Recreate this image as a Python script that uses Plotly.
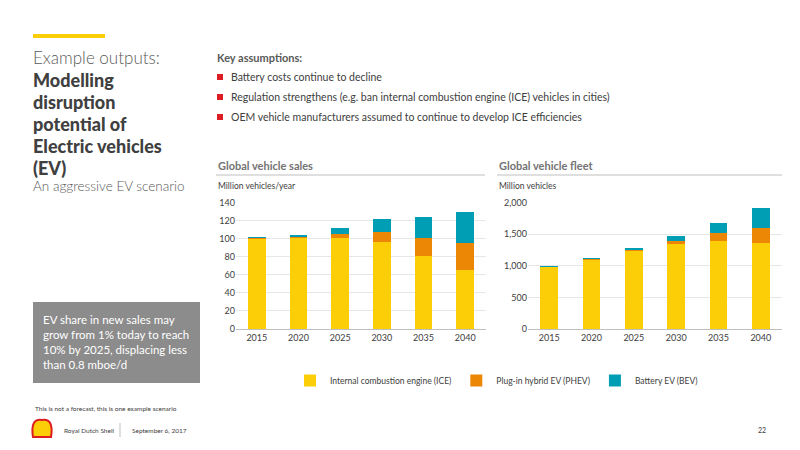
import plotly.graph_objects as go

years = ["2015", "2020", "2025", "2030", "2035", "2040"]
sales_ice = [101, 102, 101, 97, 81, 65]
sales_phev = [0.5, 1, 4, 11, 20, 31]
sales_bev = [0.5, 1.5, 7, 14, 23, 34]
fleet_ice = [985, 1100, 1235, 1350, 1385, 1355]
fleet_phev = [2, 10, 25, 50, 130, 250]
fleet_bev = [2, 10, 15, 70, 170, 305]

names = ["Internal combustion engine (ICE)", "Plug-in hybrid EV (PHEV)", "Battery EV (BEV)"]
colors = ["#FBCE07", "#EB8705", "#009EB4"]
FONT = "Lato"

fig = go.Figure()
for vals, name, col in zip([sales_ice, sales_phev, sales_bev], names, colors):
    fig.add_trace(go.Bar(x=years, y=vals, name=name, marker_color=col, marker_line_width=0,
                         width=0.42, xaxis="x", yaxis="y"))
for vals, name, col in zip([fleet_ice, fleet_phev, fleet_bev], names, colors):
    fig.add_trace(go.Bar(x=years, y=vals, name=name, marker_color=col, marker_line_width=0,
                         width=0.42, xaxis="x2", yaxis="y2", showlegend=False))

def px(x): return x / 800
def py(y): return 1 - y / 450

axis_common = dict(showgrid=True, gridcolor="#E6E6E6", zeroline=False, showline=False,
                   tickfont=dict(size=9, color="#404040", family=FONT), ticks="")
fig.update_layout(
    barmode="stack", width=800, height=450, margin=dict(l=0, r=0, t=0, b=0, autoexpand=False),
    paper_bgcolor="white", plot_bgcolor="white",
    font=dict(family=FONT, color="#404040"),
    xaxis=dict(domain=[px(236), px(486)], anchor="y", showgrid=False, showline=True,
               linecolor="#BFBFBF", tickfont=dict(size=9, color="#404040", family=FONT)),
    yaxis=dict(domain=[py(329), py(202)], range=[0, 141], dtick=20, **axis_common),
    xaxis2=dict(domain=[px(528), px(782)], anchor="y2", showgrid=False, showline=True,
                linecolor="#BFBFBF", tickfont=dict(size=9, color="#404040", family=FONT)),
    yaxis2=dict(domain=[py(329), py(202)], range=[0, 2010], dtick=500, tickformat=",",
                anchor="x2", **axis_common),
    legend=dict(orientation="h", x=px(290), y=py(366), xanchor="left", yanchor="top",
                font=dict(size=8.5, color="#404040"), itemwidth=30,
                traceorder="normal"),
)

def txt(x, y, s, size, color="#404040", anchor="left", weight=None):
    fig.add_annotation(x=px(x), y=py(y), xref="paper", yref="paper", text=s, showarrow=False,
                       xanchor=anchor, yanchor="middle", align="left",
                       font=dict(size=size, color=color, family=FONT, weight=weight))

# top accent bar
fig.add_shape(type="rect", xref="paper", yref="paper", x0=px(33), x1=px(105), y0=py(34), y1=py(38),
              fillcolor="#FBCE07", line_width=0)
txt(31, 58, "Example outputs:", 17, "#595959", weight=300)
for i, line in enumerate(["Modelling", "disruption", "potential of", "Electric vehicles", "(EV)"]):
    txt(31, 80 + i * 22, line, 18, "#404040", weight=900)
txt(31, 186, "An aggressive EV scenario", 13.5, "#595959", weight=300)

txt(215, 58, "Key assumptions:", 11, "#595959", weight=700)
bullets = ["Battery costs continue to decline",
           "Regulation strengthens (e.g. ban internal combustion engine (ICE) vehicles in cities)",
           "OEM vehicle manufacturers assumed to continue to develop ICE efficiencies"]
for i, b in enumerate(bullets):
    yy = 77 + i * 20
    fig.add_shape(type="rect", xref="paper", yref="paper", x0=px(217), x1=px(223),
                  y0=py(yy + 3), y1=py(yy - 3), fillcolor="#DD1D21", line_width=0)
    txt(229, yy, b, 10.5)

for x0, x1, title, unit in [(216, 485, "Global vehicle sales", "Million vehicles/year"),
                            (497, 782, "Global vehicle fleet", "Million vehicles")]:
    txt(x0, 165, title, 11, "#737373", weight=700)
    fig.add_shape(type="line", xref="paper", yref="paper", x0=px(x0), x1=px(x1),
                  y0=py(175), y1=py(175), line=dict(color="#BFBFBF", width=1.2))
    txt(x0, 186, unit, 8.5)

fig.add_shape(type="rect", xref="paper", yref="paper", x0=px(33), x1=px(200), y0=py(302), y1=py(383),
              fillcolor="#8C8C8C", line_width=0)
fig.add_annotation(x=px(41), y=py(342), xref="paper", yref="paper", showarrow=False,
                   xanchor="left", yanchor="middle", align="left",
                   text="EV share in new sales may<br>grow from 1% today to reach<br>10% by 2025, displacing less<br>than 0.8 mboe/d",
                   font=dict(size=11.5, color="white", family=FONT))

txt(33, 408, "This is not a forecast, this is one example scenario", 6.5)
# simple shell emblem
fig.add_shape(type="path", xref="paper", yref="paper",
              path=f"M {px(33)},{py(437)} Q {px(30)},{py(418)} {px(42)},{py(420)} Q {px(54)},{py(418)} {px(51)},{py(437)} Z",
              fillcolor="#FBCE07", line=dict(color="#DD1D21", width=2))
txt(62, 430, "Royal Dutch Shell", 6.5)
fig.add_shape(type="line", xref="paper", yref="paper", x0=px(120), x1=px(120), y0=py(423), y1=py(437),
              line=dict(color="#BFBFBF", width=1))
txt(130, 430, "September 6, 2017", 6.5)
txt(768, 430, "22", 7, anchor="right")

fig.write_html("out.html", config={"displayModeBar": False})
with open("out.html", encoding="utf-8") as f:
    html = f.read()
html = html.replace("<head>", "<head><style>html,body{margin:0;padding:0;overflow:hidden}</style>", 1)
with open("out.html", "w", encoding="utf-8") as f:
    f.write(html)
